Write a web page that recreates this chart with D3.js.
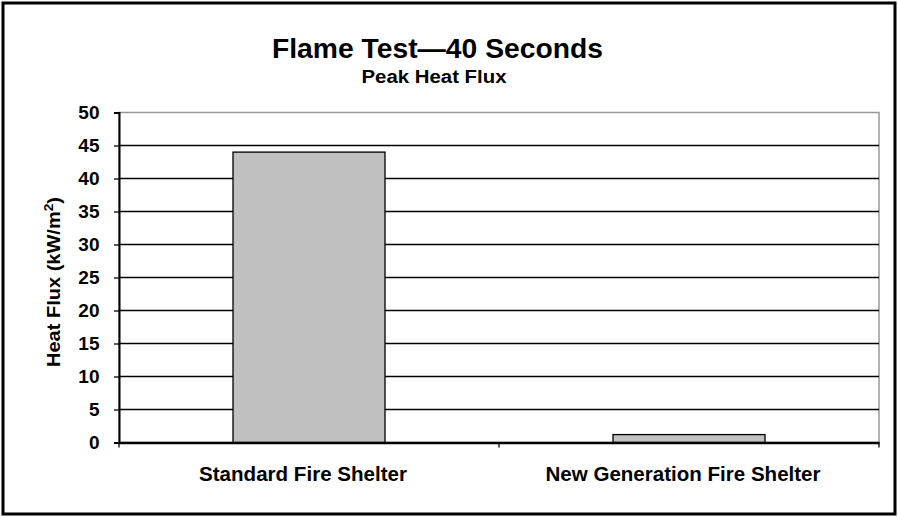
<!DOCTYPE html>
<html>
<head>
<meta charset="utf-8">
<script src="https://cdn.jsdelivr.net/npm/d3@7"></script>
<style>
  body { margin: 0; background: #fff; }
  svg text { font-family: "Liberation Sans", Arial, sans-serif; font-weight: bold; fill: #000; }
</style>
</head>
<body>
<div id="chart"></div>
<script>
// data
const categories = ["Standard Fire Shelter", "New Generation Fire Shelter"];
const values = [44, 1.2];
const yTicks = [0, 5, 10, 15, 20, 25, 30, 35, 40, 45, 50];

const width = 898, height = 517;
const margin = { top: 112.5, right: 19, bottom: 74.5, left: 119 };
const innerW = width - margin.left - margin.right;
const innerH = height - margin.top - margin.bottom;

const svg = d3.select("#chart").append("svg")
  .attr("width", width)
  .attr("height", height);

// outer frame
svg.append("rect")
  .attr("x", 3).attr("y", 3)
  .attr("width", width - 6).attr("height", height - 6)
  .attr("fill", "#fff")
  .attr("stroke", "#000")
  .attr("stroke-width", 3);

// titles
svg.append("text")
  .attr("x", 437.5).attr("y", 58)
  .attr("text-anchor", "middle")
  .attr("textLength", 331)
  .attr("lengthAdjust", "spacingAndGlyphs")
  .style("font-size", "27px")
  .text("Flame Test\u201440 Seconds");

svg.append("text")
  .attr("x", 434).attr("y", 82.5)
  .attr("text-anchor", "middle")
  .attr("textLength", 145)
  .attr("lengthAdjust", "spacingAndGlyphs")
  .style("font-size", "18px")
  .text("Peak Heat Flux");

const g = svg.append("g")
  .attr("transform", `translate(${margin.left},${margin.top})`);

const x = d3.scaleBand()
  .domain(categories)
  .range([0, innerW])
  .paddingInner(0.6)
  .paddingOuter(0.3);

const y = d3.scaleLinear()
  .domain([0, 50])
  .range([innerH, 0]);

// plot area border (gray)
g.append("rect")
  .attr("x", 0).attr("y", 0)
  .attr("width", innerW).attr("height", innerH)
  .attr("fill", "none")
  .attr("stroke", "#999")
  .attr("stroke-width", 1.5);

// gridlines
g.selectAll(".grid")
  .data(yTicks.filter(d => d > 0 && d < 50))
  .enter().append("line")
  .attr("class", "grid")
  .attr("x1", 0).attr("x2", innerW)
  .attr("y1", d => y(d)).attr("y2", d => y(d))
  .attr("stroke", "#000")
  .attr("stroke-width", 1.3);

// bars
g.selectAll(".bar")
  .data(values)
  .enter().append("rect")
  .attr("class", "bar")
  .attr("x", (d, i) => x(categories[i]))
  .attr("y", d => y(d))
  .attr("width", x.bandwidth())
  .attr("height", d => innerH - y(d))
  .attr("fill", "#c0c0c0")
  .attr("stroke", "#000")
  .attr("stroke-width", 1.3);

// y axis
const yAxis = g.append("g")
  .call(d3.axisLeft(y).tickValues(yTicks).tickSize(5).tickPadding(14.5));
yAxis.select(".domain").attr("stroke", "#000").attr("stroke-width", 2);
yAxis.selectAll(".tick line").attr("stroke", "#000").attr("stroke-width", 1.3);
yAxis.selectAll("text")
  .style("font-family", "'Liberation Sans', Arial, sans-serif")
  .style("font-weight", "bold")
  .style("font-size", "19px")
  .attr("fill", "#000");

// x axis
const labelWidths = [208, 275];
const xAxis = g.append("g")
  .attr("transform", `translate(0,${innerH})`)
  .call(d3.axisBottom(x).tickSize(0));
xAxis.select(".domain").attr("stroke", "#000").attr("stroke-width", 2.5);
xAxis.selectAll("text")
  .attr("y", 38.5)
  .attr("dy", null)
  .attr("dx", -6)
  .attr("textLength", (d, i) => labelWidths[i])
  .attr("lengthAdjust", "spacingAndGlyphs")
  .style("font-family", "'Liberation Sans', Arial, sans-serif")
  .style("font-weight", "bold")
  .style("font-size", "19.5px")
  .attr("fill", "#000");

// category separator ticks
g.selectAll(".ctick")
  .data(d3.range(categories.length + 1))
  .enter().append("line")
  .attr("class", "ctick")
  .attr("x1", i => i === 0 ? 0 : (i === categories.length ? innerW : (x(categories[i - 1]) + x(categories[i]) + x.bandwidth()) / 2))
  .attr("x2", i => i === 0 ? 0 : (i === categories.length ? innerW : (x(categories[i - 1]) + x(categories[i]) + x.bandwidth()) / 2))
  .attr("y1", innerH).attr("y2", innerH + 5)
  .attr("stroke", "#000")
  .attr("stroke-width", 1.3);

// y axis title
const yTitle = svg.append("text")
  .attr("transform", "translate(60,282) rotate(-90)")
  .attr("text-anchor", "middle")
  .attr("textLength", 170)
  .attr("lengthAdjust", "spacingAndGlyphs")
  .style("font-size", "19px");
yTitle.append("tspan").text("Heat Flux (kW/m");
yTitle.append("tspan").attr("dy", -7).style("font-size", "13px").text("2");
yTitle.append("tspan").attr("dy", 7).text(")");
</script>
</body>
</html>
